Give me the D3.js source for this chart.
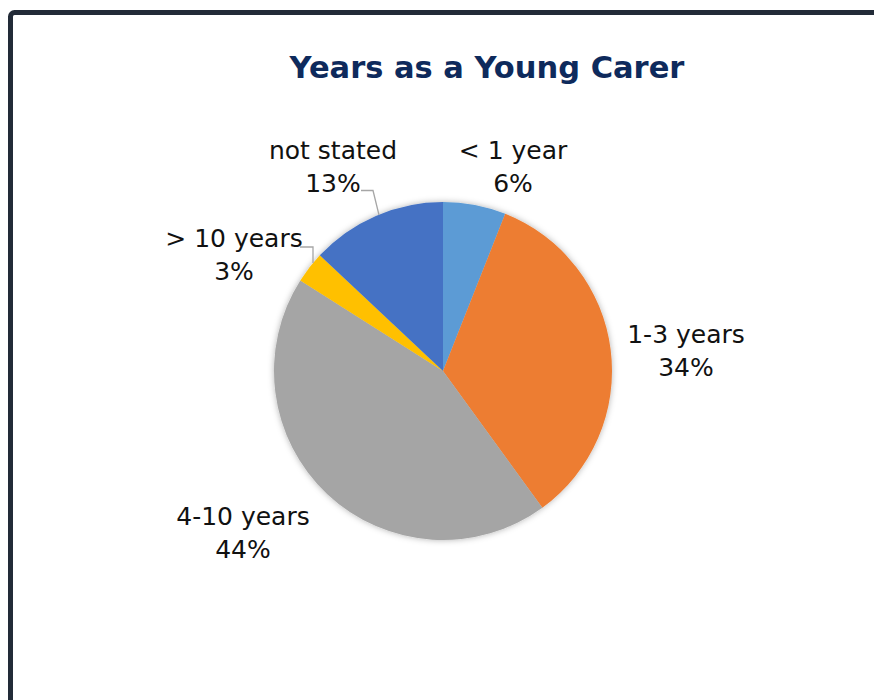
<!DOCTYPE html>
<html>
<head>
    <title>Years as a Young Carer</title>
    <script src="https://d3js.org/d3.v7.min.js"></script>
    <style>
        body { margin: 0; background: #fff; }
        .title { font-family: "DejaVu Sans", sans-serif; font-weight: bold; font-size: 30.5px; fill: #0e2a5c; }
        .label { font-family: "DejaVu Sans", sans-serif; font-size: 25px; fill: #111; }
        .leader { fill: none; stroke: #a6a6a6; stroke-width: 1.3px; }
    </style>
</head>
<body>
    <svg width="874" height="700"></svg>
    <script>
        var categories = ["< 1 year", "1-3 years", "4-10 years", "> 10 years", "not stated"];
        var values = [6, 34, 44, 3, 13];
        var colors = ["#5b9bd5", "#ed7d31", "#a5a5a5", "#ffc000", "#4472c4"];
        // label anchor (text centre) for each slice
        var labelPos = [[513, 150], [686, 334], [243, 516], [234, 238], [333, 150]];

        var svg = d3.select("svg");
        var cx = 443, cy = 371, r = 169;

        // frame
        svg.append("rect")
           .attr("x", 10.5).attr("y", 12.5)
           .attr("width", 900).attr("height", 720)
           .attr("rx", 4)
           .attr("fill", "#fff")
           .attr("stroke", "#222b38")
           .attr("stroke-width", 5);

        svg.append("text")
           .attr("class", "title")
           .attr("x", 487).attr("y", 78)
           .attr("text-anchor", "middle")
           .text("Years as a Young Carer");

        var defs = svg.append("defs");
        var f = defs.append("filter").attr("id", "shadow")
            .attr("x", "-20%").attr("y", "-20%").attr("width", "140%").attr("height", "140%");
        f.append("feDropShadow").attr("dx", 0).attr("dy", 0)
            .attr("stdDeviation", 3).attr("flood-color", "#000").attr("flood-opacity", 0.3);

        var pie = d3.pie().sort(null).value(function(d) { return d; });
        var arc = d3.arc().innerRadius(0).outerRadius(r);
        var arcs = pie(values);

        var g = svg.append("g").attr("transform", "translate(" + cx + "," + cy + ")");
        g.append("g").attr("filter", "url(#shadow)")
         .selectAll("path")
         .data(arcs)
         .enter().append("path")
         .attr("d", arc)
         .attr("fill", function(d, i) { return colors[i]; });

        // leader lines for the small top-left labels
        var leaders = [
            [[300, 247], [313, 247], [313, 263]],
            [[361, 190.5], [373, 190.5], [379, 215]]
        ];
        svg.selectAll(".leader")
           .data(leaders)
           .enter().append("path")
           .attr("class", "leader")
           .attr("d", d3.line());

        categories.forEach(function(c, i) {
            var t = svg.append("text")
               .attr("class", "label")
               .attr("text-anchor", "middle")
               .attr("x", labelPos[i][0])
               .attr("y", labelPos[i][1] + 9);
            t.append("tspan").attr("x", labelPos[i][0]).text(c);
            t.append("tspan").attr("x", labelPos[i][0]).attr("dy", 33).text(values[i] + "%");
        });
    </script>
</body>
</html>
